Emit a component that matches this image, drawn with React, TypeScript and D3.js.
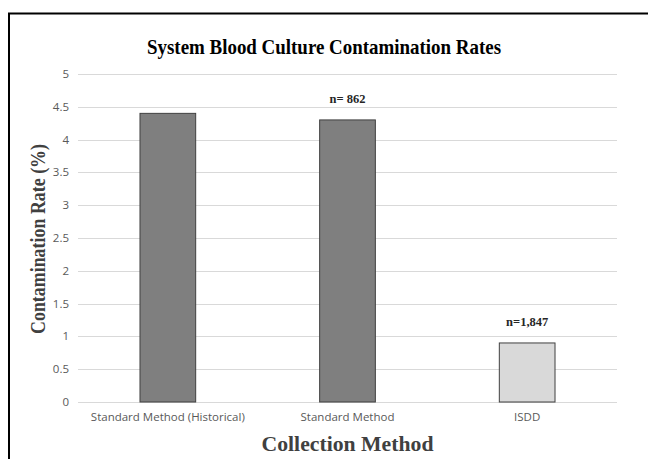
import { useEffect, useRef } from "react";
import * as d3 from "d3";

const categories = ["Standard Method (Historical)", "Standard Method", "ISDD"];
const rates = [4.4, 4.3, 0.9];
const sampleLabels = ["", "n= 862", "n=1,847"];
const barColors = ["#7f7f7f", "#7f7f7f", "#d9d9d9"];
const yTicks = [0, 0.5, 1, 1.5, 2, 2.5, 3, 3.5, 4, 4.5, 5];

const W = 648;
const H = 459;
const serif = "'Liberation Serif', 'Times New Roman', serif";
const sans = "'Open Sans', 'Noto Sans', sans-serif";

function App() {
  const svgRef = useRef<SVGSVGElement | null>(null);

  useEffect(() => {
    if (!svgRef.current) return;
    const svg = d3.select(svgRef.current);
    svg.selectAll("*").remove();

    const margin = { top: 74, right: 31, bottom: 57, left: 78 };
    const innerW = W - margin.left - margin.right;
    const innerH = H - margin.top - margin.bottom;

    const x = d3.scaleBand().domain(categories).range([0, innerW]).paddingInner(0.69).paddingOuter(0.345);
    const y = d3.scaleLinear().domain([0, 5]).range([innerH, 0]);

    svg.append("rect").attr("width", W).attr("height", H).attr("fill", "#fff");

    // frame (top and left edges visible)
    svg.append("line").attr("x1", 8).attr("x2", W).attr("y1", 13.5).attr("y2", 13.5)
      .attr("stroke", "#000").attr("stroke-width", 2);
    svg.append("line").attr("x1", 9).attr("x2", 9).attr("y1", 13).attr("y2", H)
      .attr("stroke", "#000").attr("stroke-width", 2);

    svg.append("text")
      .attr("x", 324).attr("y", 54)
      .attr("text-anchor", "middle")
      .attr("textLength", 354).attr("lengthAdjust", "spacingAndGlyphs")
      .style("font-family", serif)
      .style("font-weight", "bold").style("font-size", "21px")
      .attr("fill", "#000")
      .text("System Blood Culture Contamination Rates");

    const g = svg.append("g").attr("transform", `translate(${margin.left},${margin.top})`);

    g.selectAll(".grid").data(yTicks).enter().append("line")
      .attr("x1", 0).attr("x2", innerW)
      .attr("y1", (d) => Math.round(y(d)) + 0.5).attr("y2", (d) => Math.round(y(d)) + 0.5)
      .attr("stroke", "#d9d9d9").attr("stroke-width", 1);

    g.selectAll(".ytick").data(yTicks).enter().append("text")
      .attr("x", -9).attr("y", (d) => y(d)).attr("dy", "0.35em")
      .attr("text-anchor", "end")
      .style("font-family", sans).style("font-size", "11.5px")
      .attr("fill", "#595959")
      .text((d) => String(d));

    g.selectAll(".bar").data(rates).enter().append("rect")
      .attr("x", (_, i) => x(categories[i])!)
      .attr("y", (d) => y(d))
      .attr("width", x.bandwidth())
      .attr("height", (d) => innerH - y(d))
      .attr("fill", (_, i) => barColors[i])
      .attr("stroke", "#404040").attr("stroke-width", 1);

    g.selectAll(".nlabel").data(rates).enter().append("text")
      .attr("x", (_, i) => x(categories[i])! + x.bandwidth() / 2)
      .attr("y", (d) => y(d) - 17)
      .attr("text-anchor", "middle")
      .style("font-family", serif)
      .style("font-weight", "bold").style("font-size", "12.5px")
      .attr("fill", "#262626")
      .text((_, i) => sampleLabels[i]);

    g.selectAll(".xtick").data(categories).enter().append("text")
      .attr("x", (d) => x(d)! + x.bandwidth() / 2)
      .attr("y", innerH + 19)
      .attr("text-anchor", "middle")
      .style("font-family", sans).style("font-size", "11.5px")
      .attr("fill", "#595959")
      .text((d) => d);

    svg.append("text")
      .attr("x", margin.left + innerW / 2).attr("y", 451)
      .attr("text-anchor", "middle")
      .attr("textLength", 172).attr("lengthAdjust", "spacingAndGlyphs")
      .style("font-family", serif)
      .style("font-weight", "bold").style("font-size", "22px")
      .attr("fill", "#404040")
      .text("Collection Method");

    svg.append("text")
      .attr("transform", `translate(45,${margin.top + innerH / 2 + 1}) rotate(-90)`)
      .attr("text-anchor", "middle")
      .attr("textLength", 190).attr("lengthAdjust", "spacingAndGlyphs")
      .style("font-family", serif)
      .style("font-weight", "bold").style("font-size", "20px")
      .attr("fill", "#404040")
      .text("Contamination Rate (%)");
  }, []);

  return <svg ref={svgRef} width={W} height={H} style={{ position: "absolute", left: 0, top: 0 }}></svg>;
}

export default App;
